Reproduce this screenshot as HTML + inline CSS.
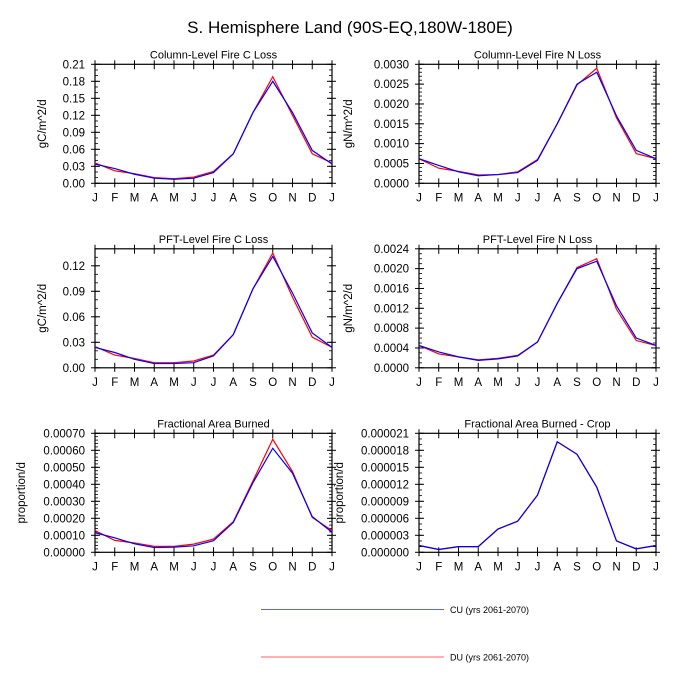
<!DOCTYPE html>
<html><head><meta charset="utf-8"><style>
html,body{margin:0;padding:0;background:#fff;}
svg{display:block;font-family:"Liberation Sans",sans-serif;}
</style></head><body>
<svg id="c" width="700" height="700" viewBox="0 0 700 700" xmlns="http://www.w3.org/2000/svg">
<text x="350" y="33" font-size="17" text-anchor="middle">S. Hemisphere Land (90S-EQ,180W-180E)</text>
<g>
<line x1="261" y1="609.5" x2="444" y2="609.5" stroke="#6060ff" stroke-width="1"/>
<text x="450" y="613" font-size="9">CU (yrs 2061-2070)</text>
<line x1="261" y1="657" x2="444" y2="657" stroke="#ff6060" stroke-width="1"/>
<text x="450" y="660.5" font-size="9">DU (yrs 2061-2070)</text>
</g>
</svg>
<script>
const months = ["J","F","M","A","M","J","J","A","S","O","N","D","J"];
const titles = ["Column-Level Fire C Loss","Column-Level Fire N Loss","PFT-Level Fire C Loss","PFT-Level Fire N Loss","Fractional Area Burned","Fractional Area Burned - Crop"];
const units = ["gC/m^2/d","gN/m^2/d","gC/m^2/d","gN/m^2/d","proportion/d","proportion/d"];
const yMax = [0.21,0.0030,0.14,0.0024,0.0007,0.000021];
const yStep = [0.03,0.0005,0.03,0.0004,0.0001,0.000003];
const yMinor = [0.01,0.0001,0.01,0.0001,0.00002,0.000001];
const yDec = [2,4,2,4,5,6];
const cuP1 = [.034,.026,.016,.009,.007,.009,.019,.052,.125,.180,.125,.058,.034];
const duP1 = [.036,.022,.017,.010,.008,.011,.021,.052,.125,.188,.120,.052,.036];
const cuP2 = [.00062,.00045,.00029,.00019,.00022,.00027,.00058,.0015,.0025,.0028,.0017,.00083,.00062];
const duP2 = [.00062,.00038,.00030,.00021,.00022,.00029,.00060,.0015,.00248,.0029,.00165,.00075,.00062];
const cuP3 = [.024,.018,.010,.005,.005,.006,.014,.039,.093,.131,.088,.041,.024];
const duP3 = [.025,.015,.011,.006,.006,.008,.015,.039,.093,.135,.083,.036,.024];
const cuP4 = [.00045,.00032,.00022,.00015,.00018,.00024,.00052,.0013,.0020,.00215,.00125,.0006,.00045];
const duP4 = [.00045,.00028,.00022,.00016,.00019,.00025,.00052,.0013,.00202,.0022,.00118,.00055,.00045];
const cuP5 = [.000115,.000085,.00005,.000028,.00003,.000038,.000068,.000175,.00041,.000612,.000465,.00021,.000118];
const duP5 = [.000128,.00007,.000055,.000035,.000035,.000048,.000078,.00018,.00042,.000665,.000475,.000205,.000128];
const cuP6 = [.0000012,.0000005,.000001,.000001,.0000041,.0000055,.0000101,.0000195,.0000173,.0000115,.000002,.0000006,.0000012];
const duP6 = [.0000012,.0000005,.000001,.000001,.0000041,.0000055,.0000101,.0000195,.0000173,.0000115,.000002,.0000006,.0000012];
const cuAll=[cuP1,cuP2,cuP3,cuP4,cuP5,cuP6];
const duAll=[duP1,duP2,duP3,duP4,duP5,duP6];

const svg=document.getElementById('c');
const NS="http://www.w3.org/2000/svg";
function mk(tag,attrs,parent){const e=document.createElementNS(NS,tag);for(const k in attrs)e.setAttribute(k,attrs[k]);parent.appendChild(e);return e;}

for(let p=0;p<6;p++){
  const col=p%2,row=Math.floor(p/2);
  const L=col?419:95,R=col?656:332,T=64.3+row*184.5,B=183.3+row*184.5;
  const g=mk('g',{},svg);
  
  
  const xS=i=>L+(R-L)*i/12;
  const yS=v=>B-(B-T)*v/yMax[p];
  const nMin=Math.floor(yMax[p]/yMinor[p]+1e-6);
  for(let k=0;k<=nMin;k++){const y=yS(k*yMinor[p]);
    mk('line',{x1:L,y1:y,x2:L+3,y2:y,stroke:'#000','stroke-width':0.8},g);
    mk('line',{x1:R,y1:y,x2:R-3,y2:y,stroke:'#000','stroke-width':0.8},g);}
  const nMaj=Math.floor(yMax[p]/yStep[p]+1e-6);
  for(let k=0;k<=nMaj;k++){const v=k*yStep[p],y=yS(v);
    mk('line',{x1:L-4,y1:y,x2:L+5,y2:y,stroke:'#000','stroke-width':1},g);
    mk('line',{x1:R-5,y1:y,x2:R+4,y2:y,stroke:'#000','stroke-width':1},g);
    const t=mk('text',{x:L-10,y:y+4,'font-size':11.5,'text-anchor':'end'},g);
    t.textContent=v.toFixed(yDec[p]);
    
    }
  for(let i=0;i<13;i++){const x=xS(i);
    mk('line',{x1:x,y1:B+4,x2:x,y2:B-5,stroke:'#000','stroke-width':1},g);
    mk('line',{x1:x,y1:T-4,x2:x,y2:T+5,stroke:'#000','stroke-width':1},g);
    const t=mk('text',{x:x,y:B+18,'font-size':11.5,'text-anchor':'middle'},g);
    t.textContent=months[i];
    
    }
  const fr=mk('rect',{x:L,y:T,width:R-L,height:B-T,fill:'none',stroke:'#000','stroke-width':1.2},g);
  
  
  const tt=mk('text',{x:(L+R)/2,y:T-6,'font-size':11,'text-anchor':'middle'},g);
  tt.textContent=titles[p];
  
  
  const lx=(p===4)?25:(p===5?343:(col?352:46));
  const yl=mk('text',{x:lx,y:(T+B)/2,'font-size':11.5,'text-anchor':'middle',transform:`rotate(-90 ${lx} ${(T+B)/2})`},g);
  yl.textContent=units[p];
  
  
  const dpath=duAll[p].map((v,i)=>(i?'L':'M')+xS(i).toFixed(2)+' '+yS(v).toFixed(2)).join(' ');
  const cpath=cuAll[p].map((v,i)=>(i?'L':'M')+xS(i).toFixed(2)+' '+yS(v).toFixed(2)).join(' ');
  const dl=mk('path',{d:dpath,fill:'none',stroke:'#ff0000','stroke-width':1.2},g);
  
  
  const cl=mk('path',{d:cpath,fill:'none',stroke:'#0000ff','stroke-width':1.2},g);
  
  
}
</script>
</body></html>
